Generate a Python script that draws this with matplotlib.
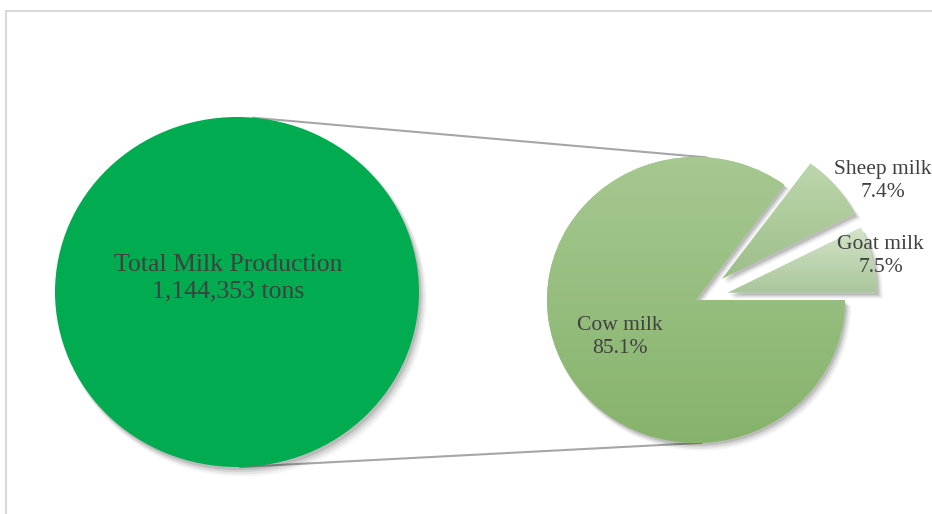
import matplotlib.pyplot as plt
import numpy as np
from matplotlib.patches import Rectangle, ConnectionPatch, Wedge
from matplotlib.colors import to_rgb

plt.rcParams['font.family'] = ['Liberation Serif', 'DejaVu Serif']

# data
total_label = 'Total Milk Production'
total_tons = 1144353
categories = ['Goat milk', 'Sheep milk', 'Cow milk']
shares = [7.5, 7.4, 85.1]

# gradient colours (top, bottom) per slice
grad_cols = [('#d4e5c8', '#a9c59b'), ('#bdd7ac', '#9dbe8a'), ('#a6c891', '#86b36b')]
explode = [0.22, 0.23, 0.0]

W, H = 932, 514
fig = plt.figure(figsize=(W / 100, H / 100), dpi=100)

# frame
fig.add_artist(Rectangle((6 / W, -0.1), 2, 1.1 - 11 / H, transform=fig.transFigure,
                         fill=False, edgecolor='#d9d9d9', lw=1.5, zorder=-5))


def make_ax(cx, cy, rx, ry):
    # axes spanning the whole figure, one data unit = rx px across, ry px up
    ax = fig.add_axes([0, 0, 1, 1])
    ax.patch.set_visible(False)
    ax.set_axis_off()
    cyb = H - cy
    lims = ((-cx / rx, (W - cx) / rx), (-cyb / ry, (H - cyb) / ry))
    return ax, lims


def shadow(ax, w, zbase):
    for k, a in enumerate([0.11, 0.08, 0.06, 0.04]):
        s = Wedge((w.center[0] + 0.012 + 0.006 * k, w.center[1] - 0.018 - 0.008 * k),
                  w.r + 0.004 * k, w.theta1, w.theta2,
                  facecolor='black', edgecolor='none', alpha=a, zorder=zbase - 1)
        ax.add_patch(s)


# ---- left: total circle
axL, limsL = make_ax(237, 292, 182, 175)
wl, _ = axL.pie([total_tons], colors=['#00ac4f'], startangle=90, radius=1.0,
                wedgeprops=dict(edgecolor='none', zorder=3))
shadow(axL, wl[0], 3)
axL.set_aspect('auto')
axL.set_xlim(*limsL[0])
axL.set_ylim(*limsL[1])
axL.text(-0.05, 0.08, f'{total_label}\n{total_tons:,} tons', ha='center', va='center',
         fontsize=18.5, color='#404040', linespacing=1.25, zorder=5)

# ---- right: breakdown pie
axR, limsR = make_ax(696, 300, 149, 143)
wedges, _ = axR.pie(shares, explode=explode, startangle=0, counterclock=True,
                    radius=1.0, wedgeprops=dict(edgecolor='none', zorder=3))
axR.set_aspect('auto')
for w, (c_top, c_bot) in zip(wedges, grad_cols):
    shadow(axR, w, 3)
    bb = w.get_path().get_extents()
    t = np.linspace(0, 1, 256)[:, None]
    top, bot = np.array(to_rgb(c_top)), np.array(to_rgb(c_bot))
    img = (top[None, None, :] * (1 - t[..., None]) + bot[None, None, :] * t[..., None])
    img = np.repeat(img, 2, axis=1)
    w.set_facecolor(c_top)
    im = axR.imshow(img, extent=[bb.x0, bb.x1, bb.y0, bb.y1], aspect='auto',
                    origin='upper', zorder=3.5, interpolation='bilinear')
    im.set_clip_path(w)
axR.set_xlim(*limsR[0])
axR.set_ylim(*limsR[1])

# labels
label_pos = [(1.24, 0.31), (1.255, 0.83), (-0.51, -0.26)]
for (lx, ly), name, v in zip(label_pos, categories, shares):
    axR.text(lx, ly, f'{name}\n{v}%', ha='center', va='center', fontsize=15.5,
             color='#404040', linespacing=1.3, zorder=6)

# connector lines
for pa, pb in [((0.088, 0.996), (0.074, 0.997)), ((0.016, -1.0), (0.04, -0.999))]:
    cp = ConnectionPatch(pa, pb, coordsA=axL.transData, coordsB=axR.transData,
                         color='#a6a6a6', lw=1.5, zorder=-1)
    fig.add_artist(cp)

fig.savefig('out.png', dpi=100)
